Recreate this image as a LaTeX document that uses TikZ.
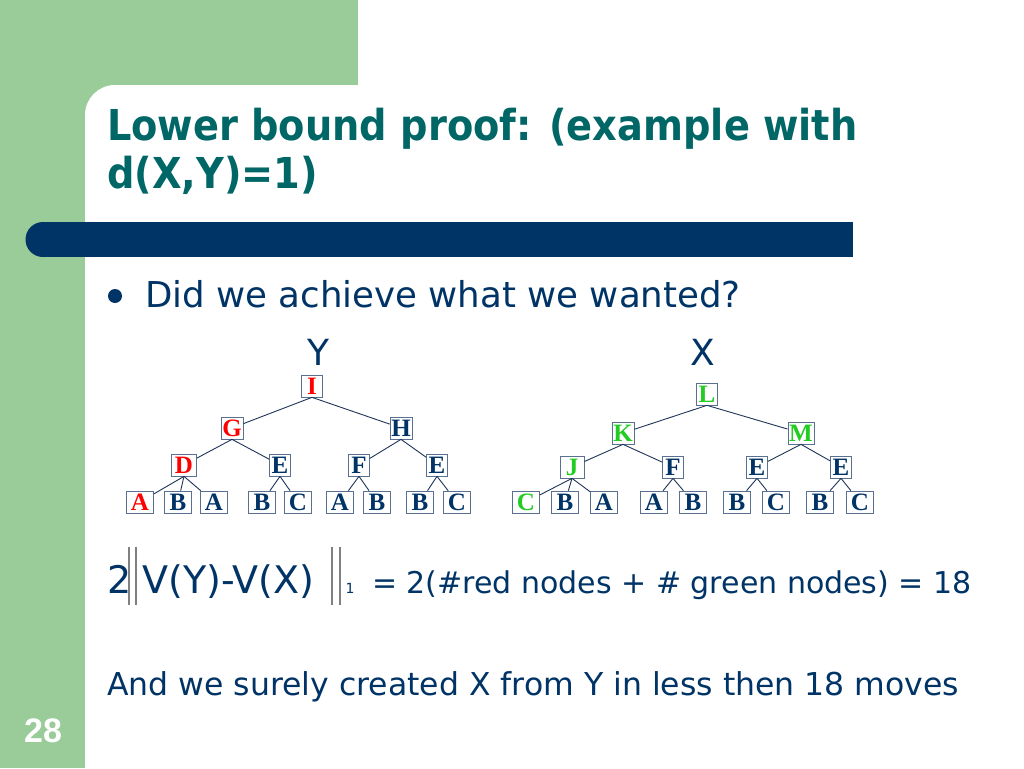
\documentclass[tikz,border=0pt]{standalone}
\usepackage{fontspec}
\setmainfont{DejaVu Sans}
\newfontfamily\titlefont{DejaVu Sans Condensed}
\newfontfamily\treefont{Liberation Serif}
\newfontfamily\numfont{Liberation Sans}
\usetikzlibrary{positioning}

\definecolor{slidegreen}{HTML}{99CC99}
\definecolor{barblue}{HTML}{003366}
\definecolor{titleteal}{HTML}{006666}
\definecolor{textnavy}{HTML}{003366}
\definecolor{boxline}{HTML}{5A7090}
\definecolor{edgenavy}{HTML}{1F3558}
\definecolor{nodered}{HTML}{FF0000}
\definecolor{nodegreen}{HTML}{22CC22}

\begin{document}
\begin{tikzpicture}[x=1pt, y=-1pt,
  every node/.style={inner sep=0pt, text=textnavy},
  tnode/.style={draw=boxline, line width=0.8pt, fill=white,
    font=\treefont\bfseries\fontsize{25}{25}\selectfont,
    minimum width=21pt, text height=17pt, text depth=0.5pt, inner xsep=1.2pt, inner ysep=2.2pt},
  leaf/.style={tnode, minimum width=27pt},
  redtxt/.style={text=nodered},
  greentxt/.style={text=nodegreen},
  edge/.style={draw=edgenavy, line width=0.9pt},
  normbar/.style={draw=gray, line width=1.2pt}]

% slide background
\useasboundingbox (0,0) rectangle (1024,768);
\clip (0,0) rectangle (1024,768);
\fill[white] (0,0) rectangle (1024,768);
\fill[slidegreen] (0,0) rectangle (358,85);
\fill[slidegreen] (0,0) rectangle (85,768);
\fill[slidegreen] (85,85) rectangle (115,115);
\fill[white] (115,115) circle (30pt);
\fill[white] (115,85) rectangle (1024,768);
\fill[white] (85,115) rectangle (1024,768);

% title bar
\fill[barblue] (43,222) rectangle (853,257);
\fill[barblue] (43,239.5) circle (17.5pt);

% Title
\node[anchor=base west, text=titleteal, font=\titlefont\bfseries\fontsize{42.6}{48}\selectfont] (title1) at (107,140) {Lower bound proof: (example with};
\node[anchor=base west, text=titleteal, font=\titlefont\bfseries\fontsize{42.6}{48}\selectfont] (title2) at (107,188) {d(X,Y)=1)};

% bullet
\fill[textnavy] (115,296) circle (7pt);
\node[anchor=base west, font=\fontsize{35.6}{40}\selectfont] (question) at (145,307) {Did we achieve what we wanted?};

% tree labels
\node[anchor=base, font=\fontsize{36}{36}\selectfont] (ylab) at (318,365) {Y};
\node[anchor=base, font=\fontsize{36}{36}\selectfont] (xlab) at (703,365) {X};

%Tree Y
\node[tnode, redtxt] (yI) at (312,386) {I};
\node[tnode, redtxt] (yG) at (232,428) {G};
\node[tnode] (yH) at (401,428) {H};
\node[tnode, redtxt, minimum width=25pt] (yD) at (184,465) {D};
\node[tnode] (yEl) at (280,465) {E};
\node[tnode] (yF) at (359,465) {F};
\node[tnode] (yEr) at (437,465) {E};
\node[leaf, redtxt] (ya1) at (140,502) {A};
\node[leaf] (yb1) at (178,502) {B};
\node[leaf] (ya2) at (214,502) {A};
\node[leaf] (yb2) at (262,502) {B};
\node[leaf] (yc1) at (298,502) {C};
\node[leaf] (ya3) at (340,502) {A};
\node[leaf] (yb3) at (377,502) {B};
\node[leaf] (yb4) at (420,502) {B};
\node[leaf] (yc2) at (457,502) {C};

\draw[edge] (yI.south) -- (yG); \draw[edge] (yI.south) -- (yH);
\draw[edge] (yG.south) -- (yD); \draw[edge] (yG.south) -- (yEl);
\draw[edge] (yH.south) -- (yF); \draw[edge] (yH.south) -- (yEr);
\draw[edge] (yD.south) -- (ya1); \draw[edge] (yD.south) -- (yb1); \draw[edge] (yD.south) -- (ya2);
\draw[edge] (yEl.south) -- (yb2); \draw[edge] (yEl.south) -- (yc1);
\draw[edge] (yF.south) -- (ya3); \draw[edge] (yF.south) -- (yb3);
\draw[edge] (yEr.south) -- (yb4); \draw[edge] (yEr.south) -- (yc2);

%Tree X
\node[tnode, greentxt] (xL) at (707,394) {L};
\node[tnode, greentxt] (xK) at (623,433) {K};
\node[tnode, greentxt] (xM) at (801,433) {M};
\node[tnode, greentxt, minimum width=24pt] (xJ) at (572,467) {J};
\node[tnode] (xF) at (673,467) {F};
\node[tnode] (xEl) at (757,467) {E};
\node[tnode] (xEr) at (841,467) {E};
\node[leaf, greentxt] (xc1) at (526,502) {C};
\node[leaf] (xb1) at (565,502) {B};
\node[leaf] (xa1) at (604,502) {A};
\node[leaf] (xa2) at (654,502) {A};
\node[leaf] (xb2) at (693,502) {B};
\node[leaf] (xb3) at (737,502) {B};
\node[leaf] (xc2) at (776,502) {C};
\node[leaf] (xb4) at (820,502) {B};
\node[leaf] (xc3) at (860,502) {C};

\draw[edge] (xL.south) -- (xK); \draw[edge] (xL.south) -- (xM);
\draw[edge] (xK.south) -- (xJ); \draw[edge] (xK.south) -- (xF);
\draw[edge] (xM.south) -- (xEl); \draw[edge] (xM.south) -- (xEr);
\draw[edge] (xJ.south) -- (xc1); \draw[edge] (xJ.south) -- (xb1); \draw[edge] (xJ.south) -- (xa1);
\draw[edge] (xF.south) -- (xa2); \draw[edge] (xF.south) -- (xb2);
\draw[edge] (xEl.south) -- (xb3); \draw[edge] (xEl.south) -- (xc2);
\draw[edge] (xEr.south) -- (xb4); \draw[edge] (xEr.south) -- (xc3);

% norm formula
\node[anchor=base west, font=\fontsize{38}{40}\selectfont] (two) at (107,593) {2};
\draw[normbar] (129,547) -- (129,605); \draw[normbar] (136,547) -- (136,605);
\node[anchor=base west, font=\fontsize{38}{40}\selectfont] (vdiff) at (142,593) {V(Y)-V(X)};
\draw[normbar] (332,547) -- (332,605); \draw[normbar] (340,547) -- (340,605);
\node[anchor=base, font=\fontsize{14}{14}\selectfont] (one) at (350,593) {1};
\node[anchor=base west, font=\fontsize{30}{32}\selectfont] (rhs) at (372,593) {= 2(\#red nodes + \# green nodes) = 18};

% conclusion
\node[anchor=base west, font=\fontsize{31.5}{34}\selectfont] (moves) at (107,695) {And we surely created X from Y in less then 18 moves};

% slide number
\node[anchor=base west, text=white, font=\numfont\bfseries\fontsize{34}{34}\selectfont] (pagenum) at (24,742) {28};

\end{tikzpicture}
\end{document}
